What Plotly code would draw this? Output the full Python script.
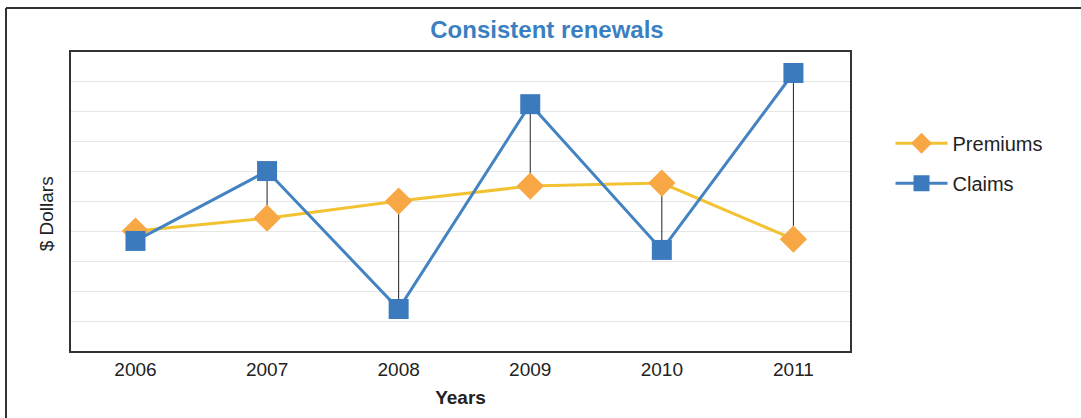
import plotly.graph_objects as go

years = ["2006", "2007", "2008", "2009", "2010", "2011"]
premiums = [4.0, 4.43, 5.0, 5.5, 5.6, 3.73]
claims = [3.67, 6.0, 1.4, 8.23, 3.37, 9.27]

FONT = "Liberation Sans, Arial, sans-serif"

# drop lines between the two series, built from the data
dx, dy = [], []
for yr, p, c in zip(years, premiums, claims):
    dx += [yr, yr, None]
    dy += [p, c, None]

fig = go.Figure()
fig.add_trace(go.Scatter(x=dx, y=dy, mode="lines", line=dict(color="#222222", width=1),
                         showlegend=False, hoverinfo="skip"))
fig.add_trace(go.Scatter(x=years, y=premiums, name="Premiums", mode="lines+markers",
                         line=dict(color="#f2c233", width=3),
                         marker=dict(symbol="diamond", size=21, color="#f7a844"),
                         legendgroup="p"))
fig.add_trace(go.Scatter(x=years, y=claims, name="Claims", mode="lines+markers",
                         line=dict(color="#4483c2", width=3),
                         marker=dict(symbol="square", size=20, color="#3b7bbd"),
                         legendgroup="c"))

fig.update_layout(
    width=1081, height=418,
    margin=dict(l=71, r=231, t=52, b=67),
    paper_bgcolor="white", plot_bgcolor="white",
    font=dict(family=FONT, size=18, color="#222222"),
    title=dict(text="<b>Consistent renewals</b>", x=0.506, xref="container",
               y=1 - 30 / 418, yref="container", xanchor="center", yanchor="middle",
               font=dict(size=24, color="#3a7fc1", family=FONT)),
    legend=dict(x=1.052, xanchor="left", y=0.76, yanchor="top", itemwidth=52,
                font=dict(size=20, color="#222222"), tracegroupgap=11,
                bgcolor="rgba(0,0,0,0)"),
    showlegend=True,
)
fig.update_xaxes(type="category", range=[-0.49, 5.43], showline=True, linecolor="#333333",
                 linewidth=1.5, mirror=True, showgrid=False, ticks="",
                 tickfont=dict(size=19), ticklabelstandoff=0,
                 title=dict(text="<b>Years</b>", font=dict(size=19), standoff=12))
fig.update_yaxes(range=[0, 9.97], dtick=1, showline=True, linecolor="#333333", linewidth=1.5,
                 mirror=True, showgrid=True, gridcolor="#e6e6e6", gridwidth=1,
                 showticklabels=False, zeroline=False)

fig.add_annotation(text="$ Dollars", xref="paper", yref="paper", x=-0.031, y=0.46,
                   textangle=-90, showarrow=False, font=dict(size=19, color="#222222"),
                   xanchor="center", yanchor="middle")

# outer frame (top and left edges)
fig.add_shape(type="line", xref="paper", yref="paper", x0=-65 / 779, x1=1010 / 779,
              y0=1 + 44 / 299, y1=1 + 44 / 299, line=dict(color="#333333", width=2))
fig.add_shape(type="line", xref="paper", yref="paper", x0=-65 / 779, x1=-65 / 779,
              y0=1 + 44 / 299, y1=-67 / 299, line=dict(color="#333333", width=2))

fig.write_html("out.html")
